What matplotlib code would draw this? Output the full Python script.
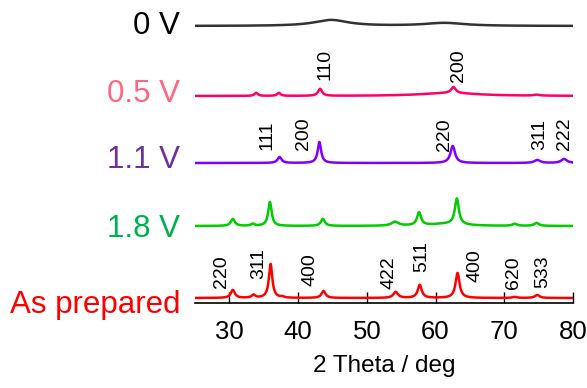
import numpy as np
from matplotlib import pyplot as plt
import matplotlib.transforms as mtransforms

plt.rcParams['font.family'] = ['Liberation Sans', 'DejaVu Sans']

# peaks: position (deg), height (px), half width (deg)
red_pos = [30.5, 33.5, 36.0, 37.7, 43.7, 54.2, 57.7, 63.2, 71.5, 74.8]
red_h = [8, 3, 34, 1, 7, 6, 13, 25, 1, 3]
red_w = [0.35, 0.3, 0.3, 0.3, 0.35, 0.4, 0.35, 0.35, 0.4, 0.4]

green_pos = [30.5, 33.4, 35.9, 43.6, 54.1, 57.6, 61.5, 63.1, 71.5, 74.7]
green_h = [7, 2, 24, 7, 4, 13, 2, 26, 2, 3]
green_w = [0.35, 0.3, 0.3, 0.35, 0.6, 0.35, 3.0, 0.35, 0.4, 0.4]

purple_pos = [37.3, 43.1, 62.5, 74.8, 78.7]
purple_h = [6, 21, 17, 3, 4]
purple_w = [0.35, 0.3, 0.4, 0.5, 0.5]

pink_pos = [33.9, 37.2, 43.2, 62.0, 62.6, 74.7]
pink_h = [3, 3, 7, 3, 6, 1]
pink_w = [0.3, 0.3, 0.35, 5.0, 0.4, 0.5]

black_pos = [44.8, 61.3]
black_h = [6, 3]
black_w = [3.0, 3.5]

# vertical offsets (px above x axis)
offsets = [5, 77, 140, 207, 277]
names = ['As prepared', '1.8 V', '1.1 V', '0.5 V', '0 V']
line_colors = ['#ff0000', '#00cc00', '#8000ff', '#ff0066', '#333333']
label_colors = ['#ff0000', '#00b050', '#7030a0', '#ff6680', '#000000']
label_y = [-2, 74, 143, 209, 277]

# hkl labels: text, position, y of label bottom
hkl_red = ['220', '311', '400', '422', '511', '400', '620', '533']
hkl_red_x = [28.8, 34.3, 41.7, 53.3, 58.0, 65.7, 71.3, 75.6]
hkl_red_y = [15, 24, 17, 14, 31, 21, 14, 15]
hkl_purple = ['111', '200', '220', '311', '222']
hkl_purple_x = [35.5, 40.8, 61.3, 75.2, 78.8]
hkl_purple_y = [153, 153, 152, 153, 153]
hkl_pink = ['110', '200']
hkl_pink_x = [43.9, 63.3]
hkl_pink_y = [223, 221]

tt = np.linspace(25, 80, 2000)

def profile(pos, h, w):
    y = np.zeros(len(tt))
    for p, a, g in zip(pos, h, w):
        y = y + a*g**2/((tt - p)**2 + g**2)
    return y

traces = [profile(red_pos, red_h, red_w),
          profile(green_pos, green_h, green_w),
          profile(purple_pos, purple_h, purple_w),
          profile(pink_pos, pink_h, pink_w),
          profile(black_pos, black_h, black_w)]

fig = plt.figure(figsize=(5.87, 3.88), dpi=100)
ax = fig.add_axes([195/587, 1 - 303/388, 378/587, 303/388])

for i in range(5):
    ax.plot(tt, traces[i] + offsets[i], color=line_colors[i], lw=1.8)

trans = mtransforms.blended_transform_factory(fig.transFigure, ax.transData)
for i in range(5):
    ax.text(180/587, label_y[i], names[i], color=label_colors[i], fontsize=22.5,
            ha='right', va='center', transform=trans, clip_on=False)

for lab, x, y in zip(hkl_red + hkl_purple + hkl_pink,
                     hkl_red_x + hkl_purple_x + hkl_pink_x,
                     hkl_red_y + hkl_purple_y + hkl_pink_y):
    ax.text(x, y, lab, rotation=90, fontsize=14, ha='center', va='bottom')

ax.set_xlim(25, 80)
ax.set_ylim(0, 303)
ax.set_xticks([30, 40, 50, 60, 70, 80])
ax.set_yticks([])
ax.tick_params(axis='x', direction='in', length=8, width=1, labelsize=18.5, pad=12)
for s in ['top', 'right', 'left']:
    ax.spines[s].set_visible(False)
ax.spines['bottom'].set_linewidth(1.2)
ax.set_xlabel('2 Theta / deg', fontsize=17.5, labelpad=8)

plt.savefig('out.png', dpi=100)
